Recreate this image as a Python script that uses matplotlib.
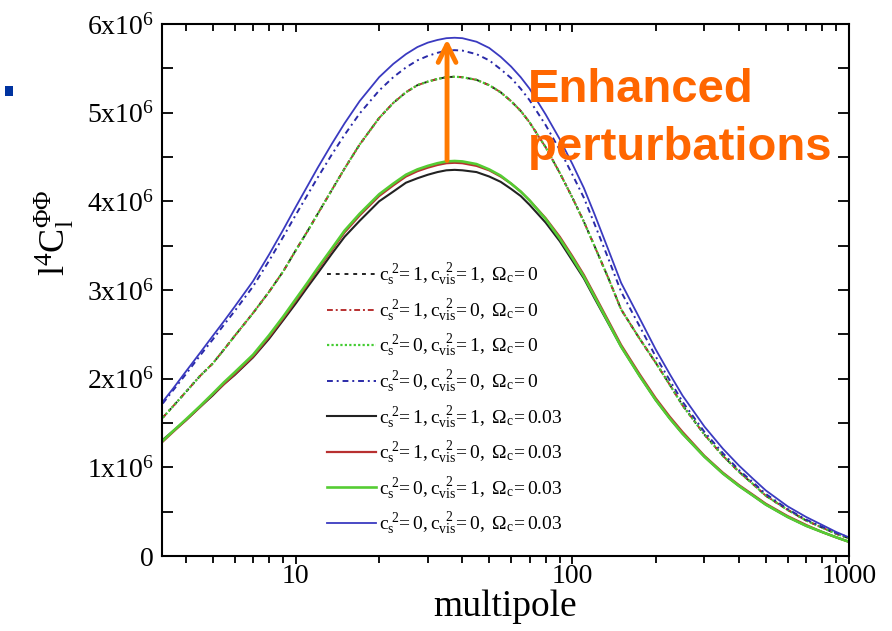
import matplotlib
matplotlib.use("Agg")
import matplotlib.pyplot as plt
from matplotlib.ticker import FixedLocator, MultipleLocator, FuncFormatter, NullFormatter
from matplotlib.patches import Rectangle

plt.rcParams['font.family'] = ['Liberation Serif', 'DejaVu Serif']
plt.rcParams['mathtext.fontset'] = 'custom'
plt.rcParams['mathtext.rm'] = 'Liberation Serif'
plt.rcParams['mathtext.it'] = 'Liberation Serif:italic'

# multipoles the curves were read at
ell = [3.3, 3.6, 4, 4.5, 5, 5.5, 6, 7, 8, 9, 10, 11, 12, 13.5, 15, 17, 20, 22.5, 25, 27.5,
       30, 32.5, 35, 37.5, 40, 45, 50, 55, 60, 65, 70, 80, 90, 100, 110, 120, 135, 150,
       175, 200, 225, 250, 300, 350, 400, 450, 500, 600, 700, 800, 900, 1000]

# l^4 C_l^phiphi, units of 1e6
# Omega_c = 0 (the three dotted ones lie on top of each other)
cs1_cv1_om0 = [1.56, 1.69, 1.85, 2.03, 2.17, 2.33, 2.48, 2.74, 2.98, 3.21, 3.45, 3.66, 3.86,
               4.13, 4.37, 4.64, 4.94, 5.11, 5.23, 5.31, 5.35, 5.38, 5.40, 5.405, 5.40, 5.37,
               5.31, 5.23, 5.13, 5.02, 4.89, 4.61, 4.32, 4.04, 3.77, 3.50, 3.13, 2.78, 2.45,
               2.18, 1.93, 1.70, 1.37, 1.13, 0.95, 0.81, 0.68, 0.52, 0.40, 0.32, 0.25, 0.20]
cs1_cv0_om0 = list(cs1_cv1_om0)
cs0_cv1_om0 = list(cs1_cv1_om0)
cs0_cv0_om0 = [1.72, 1.87, 2.05, 2.26, 2.44, 2.61, 2.76, 3.04, 3.33, 3.60, 3.85, 4.07, 4.27,
               4.53, 4.75, 4.99, 5.25, 5.40, 5.51, 5.59, 5.64, 5.675, 5.70, 5.705, 5.70, 5.66,
               5.59, 5.49, 5.39, 5.27, 5.14, 4.86, 4.58, 4.30, 4.04, 3.75, 3.35, 2.98, 2.59,
               2.25, 1.98, 1.74, 1.40, 1.16, 0.97, 0.83, 0.70, 0.53, 0.41, 0.33, 0.26, 0.21]
# Omega_c = 0.03
cs1_cv1_om3 = [1.31, 1.41, 1.53, 1.68, 1.81, 1.94, 2.04, 2.24, 2.45, 2.66, 2.85, 3.03, 3.19,
               3.41, 3.60, 3.78, 4.00, 4.11, 4.21, 4.26, 4.30, 4.33, 4.35, 4.355, 4.35, 4.33,
               4.28, 4.22, 4.14, 4.06, 3.96, 3.76, 3.55, 3.33, 3.13, 2.91, 2.62, 2.36, 2.03,
               1.76, 1.55, 1.38, 1.12, 0.93, 0.79, 0.68, 0.58, 0.44, 0.34, 0.27, 0.21, 0.16]
cs1_cv0_om3 = [1.29, 1.40, 1.53, 1.68, 1.82, 1.94, 2.05, 2.25, 2.47, 2.68, 2.88, 3.06, 3.23,
               3.45, 3.65, 3.84, 4.06, 4.18, 4.28, 4.34, 4.38, 4.41, 4.43, 4.435, 4.43, 4.40,
               4.35, 4.28, 4.20, 4.11, 4.01, 3.81, 3.60, 3.38, 3.17, 2.95, 2.65, 2.38, 2.05,
               1.78, 1.57, 1.40, 1.13, 0.94, 0.80, 0.69, 0.59, 0.45, 0.35, 0.27, 0.21, 0.16]
cs0_cv1_om3 = [1.30, 1.41, 1.54, 1.69, 1.83, 1.96, 2.07, 2.27, 2.49, 2.70, 2.90, 3.08, 3.25,
               3.47, 3.67, 3.86, 4.08, 4.20, 4.30, 4.36, 4.40, 4.43, 4.45, 4.455, 4.45, 4.42,
               4.36, 4.29, 4.20, 4.11, 4.01, 3.80, 3.58, 3.36, 3.15, 2.93, 2.63, 2.36, 2.03,
               1.76, 1.55, 1.38, 1.12, 0.93, 0.79, 0.68, 0.58, 0.44, 0.34, 0.27, 0.21, 0.16]
cs0_cv0_om3 = [1.74, 1.89, 2.08, 2.29, 2.48, 2.65, 2.81, 3.10, 3.40, 3.68, 3.94, 4.17, 4.38,
               4.65, 4.88, 5.13, 5.40, 5.55, 5.66, 5.74, 5.79, 5.82, 5.84, 5.845, 5.84, 5.80,
               5.73, 5.63, 5.52, 5.40, 5.27, 4.98, 4.70, 4.42, 4.15, 3.86, 3.45, 3.08, 2.68,
               2.33, 2.05, 1.81, 1.46, 1.21, 1.02, 0.87, 0.74, 0.56, 0.44, 0.35, 0.27, 0.21]

labels = [
    r'$\mathregular{c_s^{\ 2}\!= 1, c_{vis}^{\ \ 2}\!=1,\ \Omega_c\!= 0}$',
    r'$\mathregular{c_s^{\ 2}\!= 1, c_{vis}^{\ \ 2}\!=0,\ \Omega_c\!= 0}$',
    r'$\mathregular{c_s^{\ 2}\!= 0, c_{vis}^{\ \ 2}\!=1,\ \Omega_c\!= 0}$',
    r'$\mathregular{c_s^{\ 2}\!= 0, c_{vis}^{\ \ 2}\!=0,\ \Omega_c\!= 0}$',
    r'$\mathregular{c_s^{\ 2}\!= 1, c_{vis}^{\ \ 2}\!=1,\ \Omega_c\!= 0.03}$',
    r'$\mathregular{c_s^{\ 2}\!= 1, c_{vis}^{\ \ 2}\!=0,\ \Omega_c\!= 0.03}$',
    r'$\mathregular{c_s^{\ 2}\!= 0, c_{vis}^{\ \ 2}\!=1,\ \Omega_c\!= 0.03}$',
    r'$\mathregular{c_s^{\ 2}\!= 0, c_{vis}^{\ \ 2}\!=0,\ \Omega_c\!= 0.03}$',
]

series = [cs1_cv1_om0, cs1_cv0_om0, cs0_cv1_om0, cs0_cv0_om0,
          cs1_cv1_om3, cs1_cv0_om3, cs0_cv1_om3, cs0_cv0_om3]
colors = ['#222222', '#b83030', '#44cc33', '#2a2aa8',
          '#222222', '#b83030', '#55cc33', '#3a3ac0']
styles = [(0, (2, 2.5)), (0, (3, 1.5, 1, 1.5)), (0, (1, 1)), (0, (3, 2, 1, 2)),
          '-', '-', '-', '-']
widths = [1.4, 1.4, 1.6, 1.4, 1.5, 1.6, 1.9, 1.3]

fig = plt.figure(figsize=(8.92, 6.31), dpi=100)
ax = fig.add_axes([162/892, 1 - 556/631, (849-162)/892, (556-24)/631])

for vals, lab, c, ls, lw in zip(series, labels, colors, styles, widths):
    ax.plot(ell, [v * 1e6 for v in vals], color=c, ls=ls, lw=lw, label=lab)

ax.set_xscale('log')
ax.set_xlim(3.28, 1000)
ax.set_ylim(0, 6e6)

ax.yaxis.set_major_locator(MultipleLocator(1e6))
ax.yaxis.set_minor_locator(MultipleLocator(0.5e6))
ax.yaxis.set_major_formatter(FuncFormatter(
    lambda v, p: '0' if v == 0 else '%dx10$^{\\mathregular{6}}$' % round(v / 1e6)))
ax.xaxis.set_major_locator(FixedLocator([10, 100, 1000]))
ax.xaxis.set_major_formatter(FuncFormatter(lambda v, p: '%d' % v))
ax.xaxis.set_minor_formatter(NullFormatter())

ax.tick_params(which='both', direction='in', top=True, right=True, width=1.3, labelsize=20)
ax.tick_params(axis='y', which='both', length=8, pad=6)
ax.tick_params(axis='x', which='major', length=6)
ax.tick_params(axis='x', which='minor', length=5)
ax.tick_params(axis='x', which='both', bottom=True, direction='out', pad=0)
# top ticks point inward while bottom ones point out
for t in ax.xaxis.get_major_ticks() + ax.xaxis.get_minor_ticks():
    t.tick2line.set_marker(3)
for s in ax.spines.values():
    s.set_linewidth(1.5)

ax.set_xlabel('multipole', fontsize=27, labelpad=0)
ax.set_ylabel(r'$\mathregular{l^4C_l^{\Phi\Phi}}$', fontsize=26)
ax.yaxis.set_label_coords(-0.125, 0.607)

leg = ax.legend(loc='upper left', bbox_to_anchor=(0.2405, 0.553), frameon=False,
                fontsize=14, handlelength=2.5, handletextpad=0.15, labelspacing=0.47,
                borderpad=0, borderaxespad=0)

ax.annotate('', xy=(35.2, 5.86e6), xytext=(35.2, 4.43e6),
            arrowprops=dict(arrowstyle='->', lw=3.5, color='#ff7a00', mutation_scale=32))

fig.text(528/892, 1 - 102/631, 'Enhanced', fontsize=34, fontweight='bold',
         color='#ff6600', family='Liberation Sans', va='baseline', ha='left')
fig.text(528/892, 1 - 160/631, 'perturbations', fontsize=34, fontweight='bold',
         color='#ff6600', family='Liberation Sans', va='baseline', ha='left')

fig.patches.append(Rectangle((5/892, 1 - 96/631), 8/892, 10/631, transform=fig.transFigure,
                             facecolor='#0033a0', edgecolor='none'))

fig.savefig('out.png', dpi=100)
